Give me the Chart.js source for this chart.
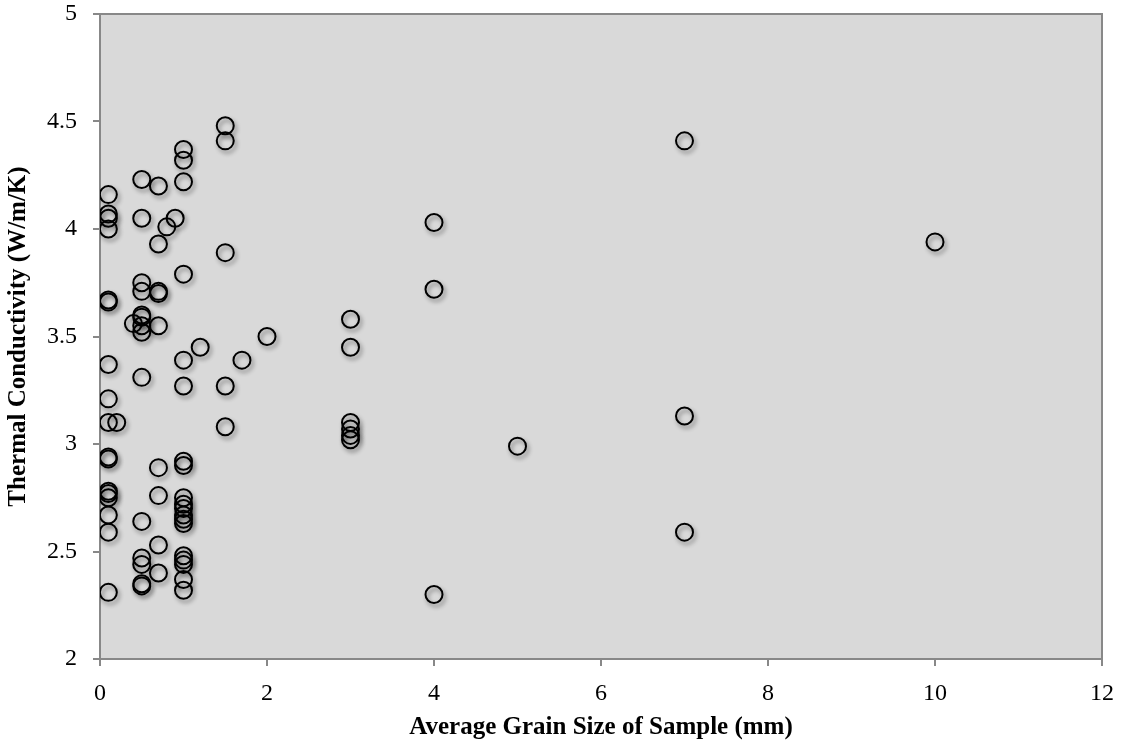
<!DOCTYPE html>
<html>
<head>
<meta charset="utf-8">
<script src="https://cdn.jsdelivr.net/npm/chart.js@4.4.1/dist/chart.umd.min.js"></script>
<style>
  html, body { margin: 0; padding: 0; background: #fff; }
  #wrap { width: 1123px; height: 747px; }
</style>
</head>
<body>
<div id="wrap"><canvas id="myChart"></canvas></div>
<script>
// grain size (mm) and conductivity (W/m/K)
const grainSize = [
  0.1, 0.1, 0.1, 0.1, 0.1, 0.1, 0.1, 0.1, 0.1, 0.1, 0.1, 0.1, 0.1, 0.1, 0.1, 0.1, 0.1,
  0.2, 0.4,
  0.5, 0.5, 0.5, 0.5, 0.5, 0.5, 0.5, 0.5, 0.5, 0.5, 0.5, 0.5, 0.5, 0.5,
  0.7, 0.7, 0.7, 0.7, 0.7, 0.7, 0.7, 0.7, 0.7,
  0.8, 0.9,
  1, 1, 1, 1, 1, 1, 1, 1, 1, 1, 1, 1, 1, 1, 1, 1, 1, 1, 1,
  1.2,
  1.5, 1.5, 1.5, 1.5, 1.5,
  1.7, 2,
  3, 3, 3, 3, 3, 3,
  4, 4, 4,
  5,
  7, 7, 7,
  10
];
const conductivity = [
  4.16, 4.07, 4.05, 4.00, 3.67, 3.66, 3.37, 3.21, 3.10, 2.94, 2.93, 2.78, 2.77, 2.75, 2.67, 2.59, 2.31,
  3.10, 3.56,
  4.23, 4.05, 3.75, 3.71, 3.59, 3.55, 3.52, 3.31, 2.64, 2.47, 2.44, 2.35, 2.34, 3.60,
  4.20, 3.93, 3.71, 3.70, 3.55, 2.89, 2.76, 2.53, 2.40,
  4.01, 4.05,
  4.37, 4.32, 4.22, 3.79, 3.39, 3.27, 2.92, 2.90, 2.75, 2.72, 2.70, 2.67, 2.65, 2.63, 2.48, 2.46, 2.44, 2.37, 2.32,
  3.45,
  4.48, 4.41, 3.89, 3.27, 3.08,
  3.39, 3.50,
  3.58, 3.45, 3.10, 3.07, 3.04, 3.02,
  4.03, 3.72, 2.30,
  2.99,
  4.41, 3.13, 2.59,
  3.94
];
const xTitle = 'Average Grain Size of Sample (mm)';
const yTitle = 'Thermal Conductivity (W/m/K)';

const points = grainSize.map((x, i) => ({ x: x, y: conductivity[i] }));

// grey plot area with a frame, soft shadow under the markers
const plotFrame = {
  id: 'plotFrame',
  beforeDraw(chart) {
    const { ctx, chartArea: a } = chart;
    ctx.save();
    ctx.fillStyle = '#d9d9d9';
    ctx.fillRect(a.left, a.top, a.right - a.left, a.bottom - a.top);
    ctx.strokeStyle = '#888888';
    ctx.lineWidth = 2;
    ctx.strokeRect(a.left, a.top, a.right - a.left, a.bottom - a.top);
    ctx.restore();
  },
  beforeDatasetsDraw(chart) {
    const ctx = chart.ctx;
    ctx.save();
    ctx.shadowColor = 'rgba(0,0,0,0.45)';
    ctx.shadowBlur = 4;
    ctx.shadowOffsetX = 2;
    ctx.shadowOffsetY = 3;
  },
  afterDatasetsDraw(chart) {
    chart.ctx.restore();
  }
};

const serif = 'Liberation Serif, Times New Roman, serif';

new Chart(document.getElementById('myChart'), {
  type: 'scatter',
  data: {
    datasets: [{
      data: points,
      pointStyle: 'circle',
      pointRadius: 8.5,
      pointHoverRadius: 8.5,
      pointBorderWidth: 2,
      pointBorderColor: '#000',
      pointBackgroundColor: 'rgba(0,0,0,0)'
    }]
  },
  options: {
    responsive: true,
    maintainAspectRatio: false,
    animation: false,
    layout: { padding: { left: 0, top: 14, right: 21, bottom: 0 } },
    plugins: { legend: { display: false }, tooltip: { enabled: false } },
    scales: {
      x: {
        type: 'linear',
        min: 0, max: 12,
        ticks: { stepSize: 2, color: '#000', font: { family: serif, size: 24 }, padding: 13 },
        grid: { drawOnChartArea: false, color: '#888888', tickLength: 7, lineWidth: 2 },
        border: { color: '#888888', width: 2 },
        title: { display: true, text: xTitle, color: '#000', font: { family: serif, size: 25, weight: 'bold' }, padding: { top: 4, bottom: 4 } },
        afterFit(scale) {
          scale.height = 88;
          scale.paddingLeft = 0;
          scale.paddingRight = 0;
        }
      },
      y: {
        type: 'linear',
        min: 2, max: 5,
        ticks: {
          stepSize: 0.5, color: '#000', font: { family: serif, size: 24 }, padding: 16,
          callback: v => String(v)
        },
        grid: { drawOnChartArea: false, color: '#888888', tickLength: 7, lineWidth: 2 },
        border: { color: '#888888', width: 2 },
        title: { display: true, text: yTitle, color: '#000', font: { family: serif, size: 25, weight: 'bold' }, padding: { top: 4, bottom: 4 } },
        afterFit(scale) {
          scale.width = 100;
          scale.paddingTop = 0;
          scale.paddingBottom = 0;
        }
      }
    }
  },
  plugins: [plotFrame]
});
</script>
</body>
</html>
